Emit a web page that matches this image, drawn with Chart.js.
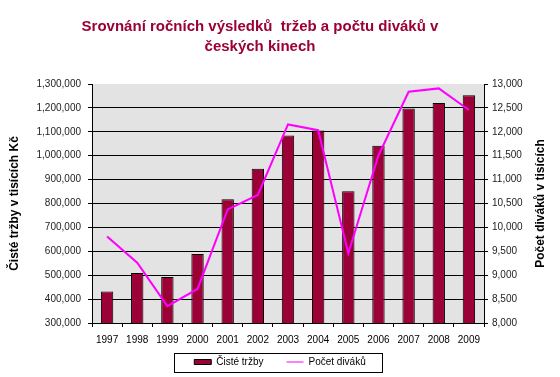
<!DOCTYPE html>
<html>
<head>
<meta charset="utf-8">
<script src="https://cdn.jsdelivr.net/npm/chart.js@4/dist/chart.umd.min.js"></script>
<style>
  html, body { margin: 0; padding: 0; background: #fff; }
  #wrap { width: 560px; height: 377px; }
</style>
</head>
<body>
<div id="wrap"><canvas id="c" width="560" height="377"></canvas></div>
<script>
// roky + hodnoty
const years = ['1997', '1998', '1999', '2000', '2001', '2002', '2003', '2004', '2005', '2006', '2007', '2008', '2009'];
const trzby = [432000, 509000, 492000, 589000, 818000, 945000, 1084000, 1105000, 851000, 1042000, 1197000, 1220000, 1253000];
const divaci = [9812, 9262, 8353, 8712, 10376, 10680, 12154, 12034, 9460, 11505, 12838, 12908, 12457];

const titleLines = ['Srovnání ročních výsledků  tržeb a počtu diváků v', 'českých kinech'];
const leftTitle = 'Čisté tržby v tisících Kč';
const rightTitle = 'Počet diváků v tisících';

const CRIMSON = '#9b0036';
const MAGENTA = '#ff00ff';
const FONT = 'Arial, "Liberation Sans", sans-serif';

const fmt = v => Number(v).toLocaleString('en-US');

// šedé pozadí plochy, nadpis (posunutý doleva jako v Excelu), popisky os a rámeček legendy
const extras = {
  id: 'extras',
  beforeDraw(chart) {
    const { ctx, chartArea: a } = chart;
    ctx.save();
    ctx.fillStyle = '#e3e3e3';
    ctx.fillRect(a.left, a.top, a.right - a.left, a.bottom - a.top);
    ctx.restore();
  },
  afterDraw(chart) {
    const { ctx, chartArea: a } = chart;
    const midY = (a.top + a.bottom) / 2;
    ctx.save();
    ctx.fillStyle = CRIMSON;
    ctx.font = 'bold 15px ' + FONT;
    ctx.textAlign = 'center';
    ctx.textBaseline = 'middle';
    titleLines.forEach((t, i) => ctx.fillText(t, 260, 27 + i * 20));

    ctx.font = 'bold 12px ' + FONT;
    ctx.fillStyle = '#000';
    [[15, leftTitle], [541, rightTitle]].forEach(([x, t]) => {
      ctx.save();
      ctx.translate(x, midY);
      ctx.rotate(-Math.PI / 2);
      ctx.fillText(t, 0, 0);
      ctx.restore();
    });
    const hb = chart.legend.legendHitBoxes;
    if (hb && hb.length) {
      const l = Math.min(...hb.map(h => h.left)) - 20;
      const r = Math.max(...hb.map(h => h.left + h.width)) + 17;
      const cy = hb[0].top + hb[0].height / 2;
      ctx.strokeStyle = '#000';
      ctx.lineWidth = 1;
      ctx.strokeRect(Math.round(l) + 0.5, Math.round(cy - 9) + 0.5, Math.round(r - l), 19);
    }
    ctx.restore();
  }
};

new Chart(document.getElementById('c'), {
  data: {
    labels: years,
    datasets: [
      {
        type: 'line',
        label: 'Počet diváků',
        data: divaci,
        yAxisID: 'y1',
        borderColor: MAGENTA,
        backgroundColor: MAGENTA,
        borderWidth: 2,
        pointRadius: 0,
        tension: 0,
        order: 0,
      },
      {
        type: 'bar',
        label: 'Čisté tržby',
        data: trzby,
        yAxisID: 'y',
        backgroundColor: CRIMSON,
        borderColor: '#000',
        borderWidth: 1,
        categoryPercentage: 1,
        barPercentage: 0.41,
        order: 1,
      },
    ],
  },
  options: {
    responsive: false,
    animation: false,
    layout: { padding: { left: 0, right: 0, top: 84, bottom: 0 } },
    plugins: {
      title: { display: false },
      legend: {
        position: 'bottom',
        reverse: true,
        labels: {
          font: { family: FONT, size: 10 },
          color: '#000',
          usePointStyle: true,
          pointStyleWidth: 17,
          boxHeight: 5,
          padding: 8,
          generateLabels: chart => {
            const items = Chart.defaults.plugins.legend.labels.generateLabels(chart);
            items.forEach(it => {
              if (it.text === 'Čisté tržby') {
                // mezera mezi položkami legendy jako v originále
                it.text += '\u2002\u2002\u2002';
                it.pointStyle = 'rect';
                it.fillStyle = CRIMSON;
                it.strokeStyle = '#000';
                it.lineWidth = 1;
              } else {
                it.pointStyle = 'line';
                it.strokeStyle = MAGENTA;
                it.lineWidth = 1;
              }
            });
            return items;
          },
        },
      },
      tooltip: { enabled: false },
    },
    scales: {
      x: {
        grid: { display: true, drawOnChartArea: false, color: '#000', tickLength: 4, offset: true },
        border: { color: '#000' },
        ticks: { color: '#000', font: { family: FONT, size: 10 }, padding: 7, maxRotation: 0 },
        afterFit: s => { s.height = 26; },
      },
      y: {
        position: 'left',
        min: 300000,
        max: 1300000,
        ticks: { stepSize: 100000, color: '#222', font: { family: FONT, size: 10 }, padding: 7, callback: fmt },
        grid: {
          color: c => (c.index === 10 ? 'rgba(0,0,0,0)' : '#000'),
          tickColor: '#000',
          tickLength: 4,
        },
        border: { color: '#000' },
        afterFit: s => { s.width = 92; },
      },
      y1: {
        position: 'right',
        min: 8000,
        max: 13000,
        ticks: { stepSize: 500, color: '#222', font: { family: FONT, size: 10 }, padding: 4, callback: fmt },
        grid: { drawOnChartArea: false, color: '#000', tickLength: 4 },
        border: { color: '#000' },
        afterFit: s => { s.width = 76; },
      },
    },
  },
  plugins: [extras],
});
</script>
</body>
</html>
